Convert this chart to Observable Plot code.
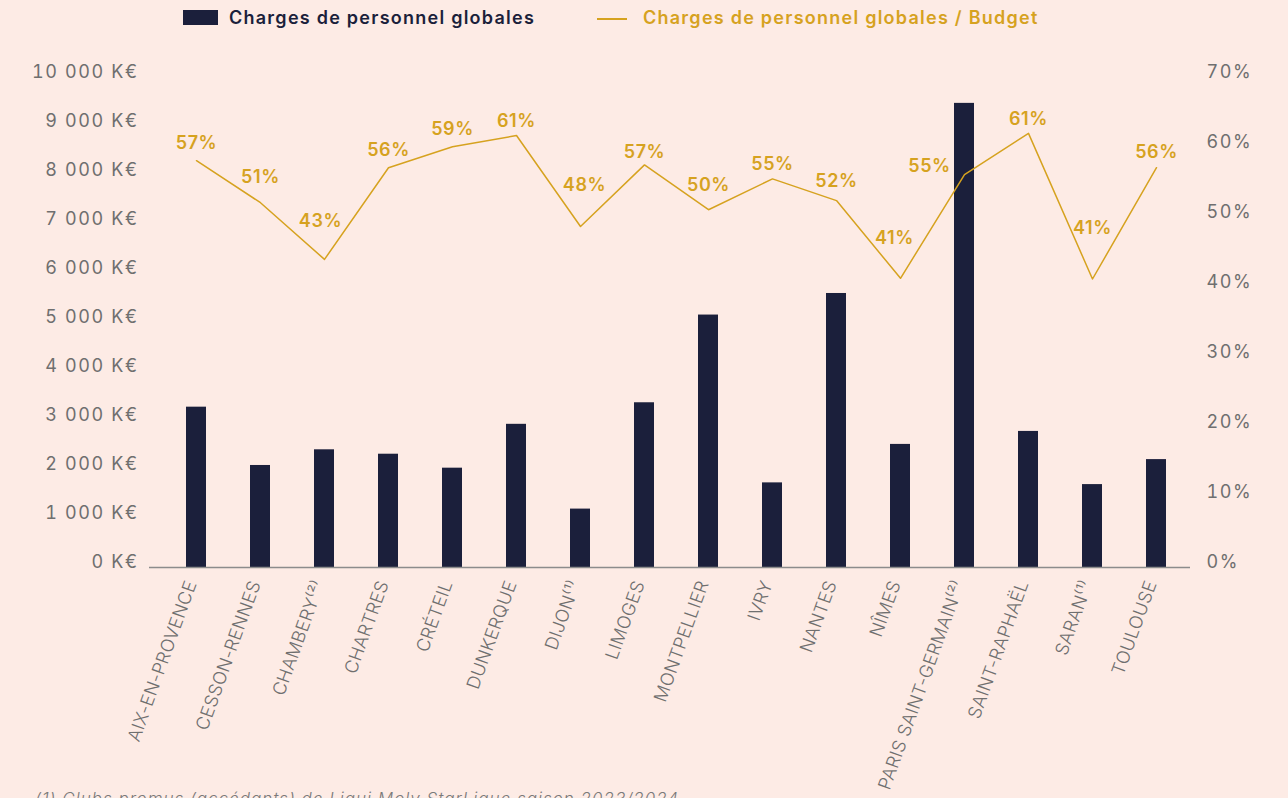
<!DOCTYPE html>
<html>
<head>
<meta charset="utf-8">
<script src="https://cdn.jsdelivr.net/npm/d3@7"></script>
<script src="https://cdn.jsdelivr.net/npm/@observablehq/plot@0.6"></script>
<style>
  html, body { margin: 0; padding: 0; background: #fdebe5; width: 1288px; height: 798px; overflow: hidden; font-family: Inter, "Open Sans", sans-serif; }
  #legend { position: relative; height: 36px; font-size: 18px; font-weight: 600; letter-spacing: 1.25px; }
  #legend .swbar { position: absolute; left: 183px; top: 10px; width: 35px; height: 15px; background: #1b1f3b; }
  #legend .t1 { position: absolute; left: 229px; top: 6px; color: #1b1f3b; line-height: 24px; }
  #legend .swline { position: absolute; left: 597px; top: 18px; width: 30px; height: 1.5px; background: #d6a21f; }
  #legend .t2 { position: absolute; left: 643px; top: 6px; color: #d6a21f; line-height: 24px; }
  #chart svg { display: block; }
  #chart svg g[aria-label="y-axis tick label"] text { letter-spacing: 1.6px; }
  #chart svg g[aria-label="x-axis tick label"] text { letter-spacing: 0.3px; }
  #chart svg g[aria-label="text"] text { letter-spacing: 0.6px; }
  #caption { position: absolute; left: 35px; top: 789px; font-size: 17px; color: #7a7a7a; font-style: italic; font-weight: 300; white-space: nowrap; letter-spacing: 1px; }
</style>
</head>
<body>
<div id="legend">
  <span class="swbar"></span><span class="t1">Charges de personnel globales</span>
  <span class="swline"></span><span class="t2">Charges de personnel globales / Budget</span>
</div>
<div id="chart"></div>
<div id="caption">(1) Clubs promus (accédants) de Liqui Moly StarLigue saison 2023/2024</div>
<script>
// ---- data ----
const cities = ["AIX-EN-PROVENCE","CESSON-RENNES","CHAMBERY⁽²⁾","CHARTRES","CRÉTEIL","DUNKERQUE","DIJON⁽¹⁾","LIMOGES","MONTPELLIER","IVRY","NANTES","NÎMES","PARIS SAINT-GERMAIN⁽²⁾","SAINT-RAPHAËL","SARAN⁽¹⁾","TOULOUSE"];
const charges = [3170, 1980, 2300, 2210, 1925, 2820, 1090, 3260, 5050, 1625, 5490, 2410, 9370, 2675, 1590, 2100]; // K€
const ratio = [57.4, 51.4, 43.3, 56.4, 59.4, 61.0, 48.0, 56.8, 50.4, 54.8, 51.7, 40.6, 55.4, 61.3, 40.5, 56.4]; // %
const leftTicks = [0, 1000, 2000, 3000, 4000, 5000, 6000, 7000, 8000, 9000, 10000];
const rightTicks = [0, 10, 20, 30, 40, 50, 60, 70];

// label placement (annotation style, px offsets)
const labelDx = [0, 0, -4, 0, 0, 0, 4, 0, 0, 0, 0, -6, -35, 0, 0, 0];
const labelDy = [-17, -25, -38, -17, -17, -14, -41, -13, -24, -15, -19, -40, -8, -14, -51, -15];

const K = 10000 / 70;
const rows = cities.map((c, i) => ({city: c, charges: charges[i], ratio: ratio[i], i}));

const navy = "#1b1f3b", gold = "#d6a21f", grey = "#6f6f6f";
const fmtK = d => d3.format(",")(d).replace(/,/g, " ") + " K€";

const labelMarks = rows.map(r => Plot.text([r], {
  x: "city", y: d => d.ratio * K, text: d => Math.round(d.ratio) + "%",
  dx: labelDx[r.i], dy: labelDy[r.i], fill: gold, fontWeight: 600, fontSize: 18
}));

const chart = Plot.plot({
  width: 1288, height: 762,
  marginTop: 36, marginBottom: 236, marginLeft: 149, marginRight: 98,
  style: {background: "transparent", fontFamily: "Inter, 'Open Sans', sans-serif", fontSize: "18px", color: grey, overflow: "visible"},
  x: {domain: cities, paddingInner: 0.689, paddingOuter: 0.445, align: 0.6, label: null},
  y: {domain: [0, 10000], label: null},
  marks: [
    Plot.barY(rows, {x: "city", y: "charges", fill: navy, insetBottom: -5}),
    Plot.ruleY([0], {stroke: "#8c8c8c", strokeWidth: 1.5, dy: 5}),
    Plot.line(rows, {x: "city", y: d => d.ratio * K, stroke: gold, strokeWidth: 1.5}),
    ...labelMarks,
    Plot.axisY({anchor: "left", ticks: leftTicks, tickSize: 0, tickPadding: 11, tickFormat: fmtK, label: null, fill: grey, fontSize: 18}),
    Plot.axisY({anchor: "right", ticks: rightTicks.map(t => t * K), tickSize: 0, tickPadding: 16, tickFormat: d => Math.round(d / K) + "%", label: null, fill: grey, fontSize: 18}),
    Plot.axisX({tickRotate: -70, tickSize: 0, tickPadding: 19, dx: -5, label: null, fill: grey, fontSize: 18, fontWeight: 300})
  ]
});
document.getElementById("chart").appendChild(chart);
</script>
</body>
</html>
